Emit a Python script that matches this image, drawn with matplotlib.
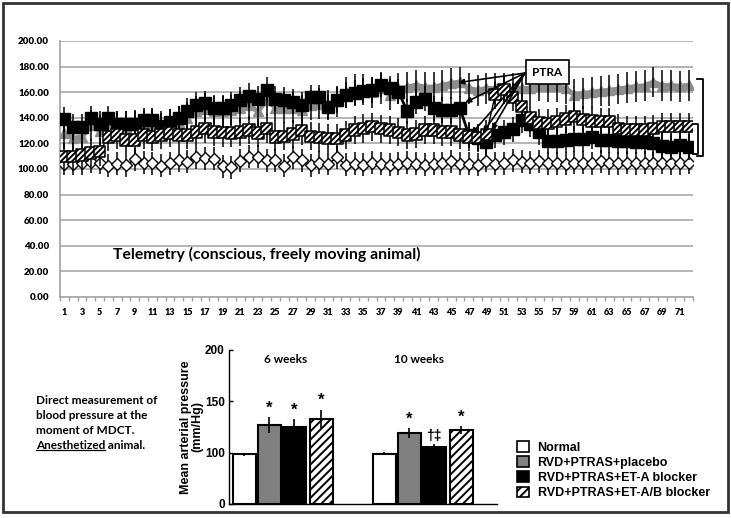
import numpy as np
import matplotlib
matplotlib.use("Agg")
import matplotlib.pyplot as plt
from matplotlib.patches import Rectangle, Patch
from matplotlib.lines import Line2D

plt.rcParams['hatch.linewidth'] = 1.4

# ---------------- data: telemetry (72 readings) ----------------
days = list(range(1, 73))
normal_tel = [104, 104, 104.5, 105.5, 105, 102.5, 104, 103, 107.5, 105, 104.5, 102.5,
              104.5, 107, 105.5, 109, 108.5, 108, 102, 101.5, 106.5, 109.5, 109.5, 107,
              107, 102.5, 109, 107, 103, 105, 104, 109, 103.5, 104, 103.5, 105,
              104, 103.5, 104, 105, 104, 103.5, 104, 104.5, 106, 104, 104, 103.5,
              106.5, 104, 104.5, 107, 105.5, 105, 106, 104.5, 104.5, 104, 105, 105,
              104.5, 106, 104.5, 104.5, 105, 104.5, 105, 104.5, 105, 104.5, 104.5, 105]
placebo_tel = [128, 124, 125, 134, 130, 132, 133, 133, 134, 134, 135, 133,
               135, 137, 140, 145, 147, 145, 145, 146, 148, 150, 145, 154,
               148, 148, 148, 146, 150, 151, 150, 153, 160, 162, 162, 160,
               163, 158, 163, 164, 165.5, 164, 164, 165.5, 167, 168, 163, 161.5,
               163, 163, 163, 163, 163, 163, 165, 164.5, 164.5, 163, 158, 159,
               160, 161, 161.5, 162.5, 163.5, 164.5, 165, 168, 165, 165.5, 164.5, 165.5]
eta_tel = [138.7, 132.6, 132.6, 139.6, 135, 139.6, 135, 135, 135, 138, 138, 133.6,
           137, 139.6, 145.6, 150, 151.3, 148, 148, 150, 154, 157.3, 155, 162,
           155, 154, 152.6, 150, 156, 156, 148.7, 154, 157.8, 159.6, 161.2, 161.7,
           166, 163, 160.4, 145, 152.6, 155, 147.4, 146, 146, 147.4, 126.6, 124,
           121.3, 126.6, 128.6, 131, 138, 135, 129, 122, 122, 122.5, 123.4, 123.4,
           125.3, 122.5, 122.5, 121.9, 122, 121.4, 121.4, 120, 118.2, 117, 118.6, 117]
etab_tel = [109.6, 109.6, 111, 112.6, 113.5, 125, 126.6, 122.6, 122.6, 126.6, 125, 126.6,
            128, 126.6, 126.6, 129, 131.7, 129, 128.4, 128, 129, 130.5, 128, 131.7,
            125, 125.5, 127.5, 130, 125.5, 124.6, 124, 124, 126.6, 130.5, 131.7, 133,
            131.5, 130.5, 128.6, 126.6, 127.5, 130.5, 130.5, 129, 129, 126.6, 125, 124.5,
            127, 158, 162, 156, 149, 140, 136, 135.7, 137, 139, 141, 138.5,
            137.5, 137, 137, 131.7, 130.5, 130.5, 130.5, 131.5, 133, 133, 133, 133]
err_normal, err_placebo, err_eta, err_etab = 9, 12, 10, 11
x_ticklabels = [str(d) for d in range(1, 73, 2)]
y_ticks_top = [0, 20, 40, 60, 80, 100, 120, 140, 160, 180, 200]

# ---------------- data: anesthetized MAP ----------------
groups = ["Normal", "RVD+PTRAS+placebo", "RVD+PTRAS+ET-A blocker", "RVD+PTRAS+ET-A/B blocker"]
periods = ["6 weeks", "10 weeks"]
map_6w = [97, 127, 125, 133]
err_6w = [3, 8, 8, 9]
map_10w = [98, 119, 106, 122]
err_10w = [3, 5, 2, 4]
sig_6w = ["", "*", "*", "*"]
sig_10w = ["", "*", "\u2020\u2021", "*"]

W, H = 731, 518
fig = plt.figure(figsize=(W / 100, H / 100), dpi=100)

ARIAL = "Liberation Sans"
CALI = "Lato"

# ---------------- top: telemetry ----------------
ax = fig.add_axes([60 / W, (H - 297) / H, 633 / W, 256 / H])
ax.set_xlim(0.5, 72.5)
ax.set_ylim(0, 200)
for y in y_ticks_top[1:]:
    ax.axhline(y, color="#a8a8a8", lw=1.2, zorder=0)

gray = "#8c8c8c"
ax.errorbar(days, normal_tel, yerr=err_normal, fmt="none", ecolor="black", elinewidth=1.1, zorder=2)
ax.plot(days, normal_tel, color="black", lw=1.0, marker="D", ms=6.5, mfc="white", mec="black",
        mew=1.0, zorder=3)
ax.plot(days, placebo_tel, color=gray, lw=3.5, marker="^", ms=7, mfc=gray, mec=gray, zorder=4)
ax.errorbar(days, placebo_tel, yerr=err_placebo, fmt="none", ecolor="black", elinewidth=1.1, zorder=4.5)
ax.errorbar(days, eta_tel, yerr=err_eta, fmt="none", ecolor="black", elinewidth=1.1, zorder=4.6)
ax.plot(days, eta_tel, color="black", lw=2.0, marker="s", ms=8.5, mfc="black", mec="black", zorder=5)
ax.errorbar(days, etab_tel, yerr=err_etab, fmt="none", ecolor="black", elinewidth=1.1, zorder=5.5)
ax.plot(days, etab_tel, color="black", lw=1.0, zorder=5.8)
ax.scatter(days, etab_tel, marker="s", s=68, facecolor="white", edgecolor="black",
           linewidths=1.1, hatch="//////", zorder=6)

ax.set_yticks(y_ticks_top)
ax.set_yticklabels([f"{v:.2f}" for v in y_ticks_top], fontfamily=CALI, fontweight="heavy", fontsize=7)
ax.set_xticks(range(1, 73, 2))
ax.set_xticklabels(x_ticklabels, fontfamily=CALI, fontweight="heavy", fontsize=6.5)
ax.set_xticks(np.arange(0.5, 73, 1), minor=True)
ax.tick_params(axis="y", length=0, pad=8)
ax.tick_params(axis="x", which="major", length=0, pad=8)
ax.tick_params(axis="x", which="minor", length=3, color="#a0a0a0", width=1)
for s in ["top", "right"]:
    ax.spines[s].set_visible(False)
ax.spines["left"].set_color("#a0a0a0")
ax.spines["bottom"].set_color("#a0a0a0")
ax.spines["left"].set_linewidth(1.2)
ax.spines["bottom"].set_linewidth(1.2)

ax.text(0.0837, 0.166, "Telemetry (conscious, freely moving animal)", transform=ax.transAxes,
        fontfamily=CALI, fontweight="bold", fontsize=11.3, ha="left", va="center")

# PTRA callout
ax.text(55.9, 175.4, "PTRA", fontfamily=CALI, fontweight="bold", fontsize=8.5, ha="center", va="center",
        bbox=dict(boxstyle="square,pad=0.55", fc="white", ec="black", lw=1.2), zorder=10)
origin = (53.4, 175.0)
for tgt in [(45.8, 167.5), (46.6, 152.0), (47.3, 127.5), (48.6, 128.5), (49.6, 130.5)]:
    ax.annotate("", xy=tgt, xytext=origin,
                arrowprops=dict(arrowstyle="-|>", lw=1.2, color="black", mutation_scale=8,
                                shrinkA=0, shrinkB=0), zorder=9)

# brackets on right
ax.plot([72.95, 73.65, 73.65, 72.95], [170.5, 170.5, 110.5, 110.5], color="black", lw=1.3, clip_on=False)
ax.plot([72.45, 73.1, 73.1, 72.45], [135.5, 135.5, 111.5, 111.5], color="black", lw=1.3, clip_on=False)

# ---------------- bottom: bar chart ----------------
def fwd(v):
    v = np.asarray(v, dtype=float)
    return np.where(v <= 100, v * 0.5, v - 50)


def inv(u):
    u = np.asarray(u, dtype=float)
    return np.where(u <= 50, u * 2, u + 50)


bx = fig.add_axes([229 / W, (H - 504) / H, 268 / W, 154 / H])
bx.set_yscale("function", functions=(fwd, inv))
bx.set_ylim(0, 200)
bx.set_xlim(0, 10.72)
group_start = [0.6, 6.2]
offsets = [0, 1, 2, 3.08]
styles = [dict(facecolor="white", hatch=None),
          dict(facecolor="#808080", hatch=None),
          dict(facecolor="black", hatch=None),
          dict(facecolor="white", hatch="////")]
for gs, vals, errs, sigs in zip(group_start, [map_6w, map_10w], [err_6w, err_10w], [sig_6w, sig_10w]):
    for k in range(4):
        xpos = gs + offsets[k]
        bx.bar(xpos, vals[k], width=0.92, color=styles[k]["facecolor"], edgecolor="black",
               linewidth=1.5, hatch=styles[k]["hatch"], zorder=2)
        bx.errorbar(xpos, vals[k], yerr=errs[k], fmt="none", ecolor="black", elinewidth=1.2,
                    capsize=0, zorder=3)
        if sigs[k]:
            fs = 12 if sigs[k] == "*" else 10
            bx.annotate(sigs[k], xy=(xpos, vals[k] + errs[k]), xytext=(0, 1), textcoords="offset points",
                        ha="center", va="bottom", fontfamily=ARIAL, fontweight="bold", fontsize=fs)

bx.set_yticks([0, 100, 150, 200])
bx.set_yticklabels(["0", "100", "150", "200"], fontfamily=ARIAL, fontweight="bold", fontsize=8.5)
bx.set_xticks([])
bx.tick_params(axis="y", direction="in", length=3, width=1, pad=3)
for s in ["top", "right"]:
    bx.spines[s].set_visible(False)
bx.spines["left"].set_linewidth(1.0)
bx.spines["bottom"].set_linewidth(1.0)
bx.set_ylabel("Mean arterial pressure\n(mm/Hg)", fontfamily=ARIAL, fontweight="bold", fontsize=9,
              linespacing=1.0, labelpad=1)
bx.text(0.213, 0.94, periods[0], transform=bx.transAxes, ha="center", va="center",
        fontfamily=CALI, fontweight="bold", fontsize=8.5)
bx.text(0.709, 0.94, periods[1], transform=bx.transAxes, ha="center", va="center",
        fontfamily=CALI, fontweight="bold", fontsize=8.5)

# legend
handles = [Patch(facecolor=st["facecolor"], edgecolor="black", hatch=st["hatch"], linewidth=1.2)
           for st in styles]
fig.legend(handles, groups, loc="upper left", bbox_to_anchor=(517 / W, (H - 441) / H),
           frameon=False, prop=dict(family=ARIAL, weight="bold", size=9),
           handlelength=0.95, handleheight=0.95, handletextpad=0.7, labelspacing=0.2,
           borderpad=0, borderaxespad=0)

# left note
lines = ["Direct measurement of", "blood pressure at the", "moment of MDCT."]
ys = [401, 415.5, 430.5]
for t, yy in zip(lines, ys):
    fig.text(36 / W, (H - yy) / H, t, fontfamily=CALI, fontweight="bold", fontsize=8.5,
             ha="left", va="center")
t1 = fig.text(36 / W, (H - 445.5) / H, "Anesthetized", fontfamily=CALI, fontweight="bold",
              fontsize=8.5, ha="left", va="center")
fig.canvas.draw()
r = fig.canvas.get_renderer()
bb = t1.get_window_extent(r)
fig.text(bb.x1 / fig.bbox.width, (H - 445.5) / H, " animal.", fontfamily=CALI, fontweight="bold",
         fontsize=8.5, ha="left", va="center")
uy = (bb.y0 + 1.0) / fig.bbox.height
fig.add_artist(Line2D([bb.x0 / fig.bbox.width, bb.x1 / fig.bbox.width], [uy, uy], color="black", lw=0.9))

# outer frame
fig.add_artist(Rectangle((3 / W, (H - 512) / H), 725 / W, 509 / H, transform=fig.transFigure,
                         fill=False, edgecolor="#333333", lw=2.0))

fig.savefig("out.png", dpi=100)
